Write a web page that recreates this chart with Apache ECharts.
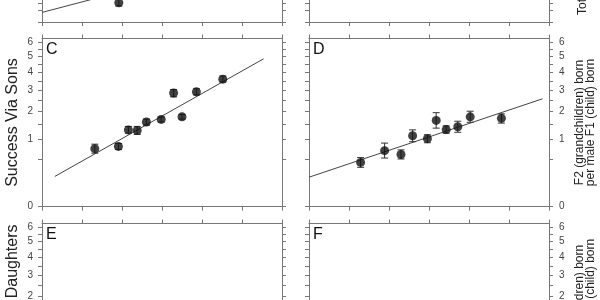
<!DOCTYPE html>
<html><head><meta charset="utf-8">
<script src="https://cdn.jsdelivr.net/npm/echarts@6/dist/echarts.min.js"></script>
<style>html,body{margin:0;padding:0;background:#fff}#c{width:600px;height:300px}</style>
</head><body><div id="c"></div>
<script>
// ---- data ----
const xMin = 0, xMax = 6, xInterval = 1;
const yTicksMain = [0,0.5,1,1.5,2,2.5,3,3.5,4,4.5,5,5.5,6];
const yLabelsMain = [0,1,2,3,4,5,6];
const yMaxMain = 6.25;
const yTicksTop = [0,2,5,10,20,50,100,200,300,400];
const yLabelsTop = [50,100,200,300,400];
const yMaxTop = 400;

// Panel A (mostly outside the view)
const aX = [1.92];
const aY = [5.27];
const aLo = [3.62];
const aHi = [7.2];
const aLineX = [0, 5.5];
const aLineY = [1.30, 64.2];

// Panel C: Success via sons
const cX  = [1.32,1.91,2.16,2.38,2.61,2.98,3.29,3.50,3.86,4.52];
const cY  = [0.74,0.80,1.30,1.28,1.58,1.68,2.85,1.78,2.91,3.59];
const cLo = [0.63,0.72,1.19,1.15,1.47,1.58,2.66,1.69,2.76,3.43];
const cHi = [0.86,0.88,1.42,1.42,1.69,1.77,3.03,1.88,3.07,3.77];
const cLineX = [0.32, 5.54];
const cLineY = [0.20, 4.83];

// Panel D
const dX  = [1.29,1.89,2.30,2.59,2.96,3.18,3.43,3.72,4.03,4.81];
const dY  = [0.43,0.69,0.60,1.11,1.02,1.64,1.31,1.41,1.78,1.72];
const dLo = [0.34,0.52,0.50,0.93,0.90,1.36,1.19,1.22,1.57,1.54];
const dHi = [0.53,0.89,0.71,1.30,1.14,1.95,1.44,1.61,2.01,1.90];
const dLineX = [0, 5.84];
const dLineY = [0.19, 2.57];

const leftLabelSons = 'Success Via Sons';
const leftLabelDaughters = 'Success Via Daughters';
const rightLabelTop = 'Total F2 (grandchildren) born\nper F1 (child) born';
const rightLabelMale = 'F2 (grandchildren) born\nper male F1 (child) born';
const rightLabelFemale = 'F2 (grandchildren) born\nper female F1 (child) born';

// ---- layout ----
const FONT = '"Liberation Sans", Arial, sans-serif';
const AX = '#777';
const GW = 240, GH = 168;
const panels = [
  {key:'A', left:42,  top:-146, yMax:yMaxTop,  ticks:yTicksTop,  labels:yLabelsTop,  labelSide:'left'},
  {key:'B', left:309, top:-146, yMax:yMaxTop,  ticks:yTicksTop,  labels:yLabelsTop,  labelSide:'right'},
  {key:'C', left:42,  top:38.5, yMax:yMaxMain, ticks:yTicksMain, labels:yLabelsMain, labelSide:'left'},
  {key:'D', left:309, top:38.5, yMax:yMaxMain, ticks:yTicksMain, labels:yLabelsMain, labelSide:'right'},
  {key:'E', left:42,  top:223.5,yMax:yMaxMain, ticks:yTicksMain, labels:yLabelsMain, labelSide:'left'},
  {key:'F', left:309, top:223.5,yMax:yMaxMain, ticks:yTicksMain, labels:yLabelsMain, labelSide:'right'}
];

const grids = [], xAxes = [], yAxes = [], titles = [];
panels.forEach((p, i) => {
  grids.push({left:p.left, top:p.top, width:GW, height:GH, containLabel:false, outerBoundsMode:'none'});
  ['bottom','top'].forEach(pos => xAxes.push({
    type:'value', gridIndex:i, position:pos, min:xMin, max:xMax, interval:xInterval,
    axisLine:{show:true, onZero:false, lineStyle:{color:AX, width:1}},
    axisTick:{show:true, inside:false, length:4, lineStyle:{color:AX}},
    axisLabel:{show:false}, splitLine:{show:false}
  }));
  ['left','right'].forEach(pos => yAxes.push({
    type:'value', gridIndex:i, position:pos, min:0, max:Math.sqrt(p.yMax),
    axisLine:{show:true, onZero:false, lineStyle:{color:AX, width:1}},
    axisTick:{show:true, inside:false, length:4, customValues:p.ticks.map(Math.sqrt), lineStyle:{color:AX}},
    axisLabel:{show: pos === p.labelSide, customValues:p.labels.map(Math.sqrt),
      formatter: v => String(Math.round(v*v)), margin: pos==='left'?9:10,
      fontSize:10, color:'#444', fontFamily:FONT, hideOverlap:false},
    splitLine:{show:false}
  }));
  titles.push({text:p.key, left:p.left+4, top:p.top+3, padding:0,
    textStyle:{fontSize:16, fontWeight:'normal', color:'#111', fontFamily:FONT}});
});

const sq = v => Math.sqrt(v);
function pts(xs, ys){ return xs.map((x,k)=>[x, sq(ys[k])]); }
function errs(xs, lo, hi){ return xs.map((x,k)=>[x, sq(lo[k]), sq(hi[k])]); }

const series = [];
function addPanel(i, xs, ys, lo, hi, lx, ly){
  series.push({type:'line', xAxisIndex:2*i, yAxisIndex:2*i, data:pts(lx, ly),
    showSymbol:false, silent:true, lineStyle:{color:'#444', width:1}, z:2});
  series.push({type:'custom', xAxisIndex:2*i, yAxisIndex:2*i, data:errs(xs, lo, hi),
    encode:{x:0, y:[1,2]}, z:3, silent:true,
    renderItem:(params, api) => {
      const x = api.value(0);
      const a = api.coord([x, api.value(1)]);
      const b = api.coord([x, api.value(2)]);
      const w = 3.5, st = {stroke:'#333', lineWidth:1};
      return {type:'group', children:[
        {type:'line', shape:{x1:a[0], y1:a[1], x2:b[0], y2:b[1]}, style:st},
        {type:'line', shape:{x1:a[0]-w, y1:a[1], x2:a[0]+w, y2:a[1]}, style:st},
        {type:'line', shape:{x1:b[0]-w, y1:b[1], x2:b[0]+w, y2:b[1]}, style:st}
      ]};
    }});
  series.push({type:'scatter', xAxisIndex:2*i, yAxisIndex:2*i, data:pts(xs, ys),
    symbolSize:9, itemStyle:{color:'#111'}, z:4, silent:true});
}
addPanel(0, aX, aY, aLo, aHi, aLineX, aLineY);
addPanel(2, cX, cY, cLo, cHi, cLineX, cLineY);
addPanel(3, dX, dY, dLo, dHi, dLineX, dLineY);

function vtext(text, x, y, size, lh){
  return {type:'text', x:x, y:y, rotation:Math.PI/2, silent:true,
    style:{text:text, x:0, y:0, align:'center', verticalAlign:'middle',
      font:size+'px '+FONT, lineHeight:lh, fill:'#222'}};
}
const graphic = [
  vtext(leftLabelSons, 13, 38.5+GH/2, 16, 18),
  vtext(leftLabelDaughters, 13, 223.5+GH/2, 16, 18),
  vtext(rightLabelTop, 588, -146+GH/2, 12, 11),
  vtext(rightLabelMale, 585, 38.5+GH/2, 12, 11),
  vtext(rightLabelFemale, 585, 223.5+GH/2, 12, 11)
];

const chart = echarts.init(document.getElementById('c'), null, {renderer:'canvas'});
chart.setOption({
  animation:false, backgroundColor:'#fff',
  title:titles, grid:grids, xAxis:xAxes, yAxis:yAxes, series:series, graphic:graphic
});
</script></body></html>
